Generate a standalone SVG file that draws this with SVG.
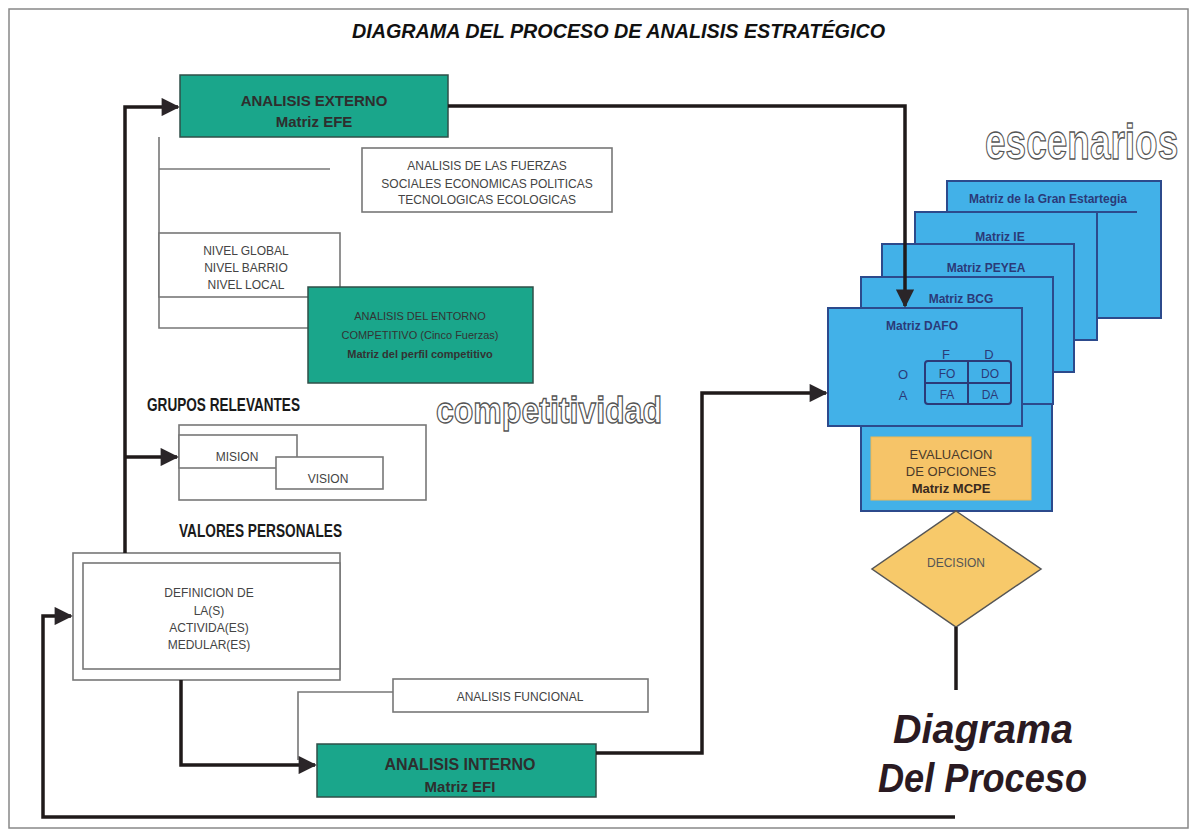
<svg xmlns="http://www.w3.org/2000/svg" width="1193" height="835" viewBox="0 0 1193 835">
<style>
.t{font-family:"Liberation Sans",Arial,sans-serif;}
.gray{fill:#444;font-size:12px;text-anchor:middle;}
.teal{fill:#1aa68b;stroke:#2f4f48;stroke-width:1.5;}
.tb{fill:#2e2e2e;font-weight:bold;text-anchor:middle;}
.blue{fill:#42b1e8;stroke:#2c4a8c;stroke-width:2;}
.nv{fill:#2b3a78;font-weight:bold;font-size:12px;text-anchor:middle;}
.thin{fill:none;stroke:#777;stroke-width:1.6;}
.box{fill:#fff;stroke:#777;stroke-width:1.6;}
.con{fill:none;stroke:#1f1a1a;stroke-width:3.5;}
.hd{fill:#1a1a1a;font-weight:bold;font-size:19px;}
.out{fill:#fff;stroke:#555;stroke-width:1.3;font-weight:bold;}
</style>
<defs>
<marker id="ar" viewBox="0 0 10 10" refX="9" refY="5" markerWidth="5.8" markerHeight="5.2" orient="auto" markerUnits="strokeWidth">
<path d="M0,0 L10,5 L0,10 z" fill="#2a2528"/>
</marker>
</defs>
<rect x="0" y="0" width="1193" height="835" fill="#fff"/>
<rect x="9" y="9" width="1179" height="819" fill="none" stroke="#888" stroke-width="1.5"/>
<text class="t" x="352" y="38" font-size="20" font-weight="bold" font-style="italic" fill="#111" textLength="533" lengthAdjust="spacingAndGlyphs">DIAGRAMA DEL PROCESO DE ANALISIS ESTRATÉGICO</text>

<g id="guides">
<path class="thin" d="M159,137 V328 H308"/>
<path class="thin" d="M159,169 H330"/>
<path class="thin" d="M393,692 H298 V760"/>
</g>

<g id="externo">
<rect class="teal" x="180" y="75" width="268" height="62"/>
<text class="t tb" x="314" y="106" font-size="15">ANALISIS EXTERNO</text>
<text class="t tb" x="314" y="127" font-size="15">Matriz EFE</text>
</g>

<g id="fuerzas">
<rect class="box" x="362" y="148" width="250" height="64"/>
<text class="t gray" x="487" y="170">ANALISIS DE LAS FUERZAS</text>
<text class="t gray" x="487" y="188">SOCIALES ECONOMICAS POLITICAS</text>
<text class="t gray" x="487" y="204">TECNOLOGICAS ECOLOGICAS</text>
</g>

<g id="niveles">
<rect class="box" x="159" y="233" width="181" height="64"/>
<text class="t gray" x="246" y="255">NIVEL GLOBAL</text>
<text class="t gray" x="246" y="272">NIVEL BARRIO</text>
<text class="t gray" x="246" y="289">NIVEL LOCAL</text>
</g>

<g id="entorno">
<rect class="teal" x="308" y="287" width="225" height="96"/>
<text class="t" x="420" y="320" font-size="11" fill="#333" text-anchor="middle">ANALISIS DEL ENTORNO</text>
<text class="t" x="420" y="339" font-size="11" fill="#333" text-anchor="middle">COMPETITIVO (Cinco Fuerzas)</text>
<text class="t" x="420" y="358" font-size="11" fill="#333" font-weight="bold" text-anchor="middle">Matriz del perfil competitivo</text>
</g>

<text class="t hd" x="147" y="411" textLength="153" lengthAdjust="spacingAndGlyphs">GRUPOS RELEVANTES</text>
<text class="t out" x="436" y="423" font-size="36" textLength="226" lengthAdjust="spacingAndGlyphs">competitividad</text>

<g id="grupos">
<rect class="box" x="179" y="425" width="247" height="75"/>
<rect class="box" x="179" y="435" width="118" height="33" fill="none"/>
<rect class="box" x="276" y="457" width="107" height="32" fill="none"/>
<text class="t gray" x="237" y="461">MISION</text>
<text class="t gray" x="328" y="483">VISION</text>
</g>

<text class="t hd" x="179" y="537" textLength="163" lengthAdjust="spacingAndGlyphs">VALORES PERSONALES</text>

<g id="definicion">
<rect class="box" x="73" y="553" width="267" height="127"/>
<rect class="box" x="83" y="563" width="257" height="106"/>
<text class="t gray" x="209" y="597">DEFINICION DE</text>
<text class="t gray" x="209" y="615">LA(S)</text>
<text class="t gray" x="209" y="632">ACTIVIDA(ES)</text>
<text class="t gray" x="209" y="649">MEDULAR(ES)</text>
</g>

<g id="funcional">
<rect class="box" x="393" y="679" width="255" height="33"/>
<text class="t gray" x="520" y="701" font-size="11">ANALISIS FUNCIONAL</text>
</g>

<g id="interno">
<rect class="teal" x="317" y="744" width="279" height="53"/>
<text class="t tb" x="460" y="770" font-size="16">ANALISIS INTERNO</text>
<text class="t tb" x="460" y="792" font-size="15">Matriz EFI</text>
</g>

<text class="t out" transform="translate(985,159) scale(0.74,1)" x="0" y="0" font-size="50">escenarios</text>

<g id="gran">
<rect class="blue" x="947" y="181" width="214" height="137"/>
<text class="t nv" x="1048" y="203">Matriz de la Gran Estartegia</text>
<line x1="915" y1="212" x2="1137" y2="212" stroke="#2c4a8c" stroke-width="2"/>
</g>
<g id="ie">
<rect class="blue" x="915" y="212" width="182" height="128"/>
<text class="t nv" x="1000" y="241">Matriz IE</text>
</g>
<g id="peyea">
<rect class="blue" x="882" y="244" width="192" height="128"/>
<text class="t nv" x="986" y="272">Matriz PEYEA</text>
</g>
<g id="bcg">
<rect class="blue" x="861" y="277" width="192" height="127"/>
<text class="t nv" x="961" y="303">Matriz BCG</text>
</g>
<g id="evaluacion">
<rect class="blue" x="861" y="404" width="191" height="107"/>
<rect x="871" y="437" width="160" height="63" fill="#f6c468" stroke="#f0b850" stroke-width="1"/>
<text class="t" x="951" y="459" font-size="13" fill="#4a3a2a" text-anchor="middle">EVALUACION</text>
<text class="t" x="951" y="476" font-size="13" fill="#4a3a2a" text-anchor="middle">DE OPCIONES</text>
<text class="t" x="951" y="493" font-size="13" fill="#3a2a20" font-weight="bold" text-anchor="middle">Matriz MCPE</text>
</g>
<g id="dafo">
<rect class="blue" x="828" y="308" width="194" height="118"/>
<text class="t nv" x="922" y="330">Matriz DAFO</text>
<rect x="925" y="361" width="86" height="43" rx="3" fill="none" stroke="#2b3a78" stroke-width="2"/>
<line x1="968" y1="361" x2="968" y2="404" stroke="#2b3a78" stroke-width="2"/>
<line x1="925" y1="383" x2="1011" y2="383" stroke="#2b3a78" stroke-width="2"/>
<text class="t" x="946" y="359" font-size="13" fill="#2b3a78" text-anchor="middle">F</text>
<text class="t" x="989" y="359" font-size="13" fill="#2b3a78" text-anchor="middle">D</text>
<text class="t" x="903" y="379" font-size="13" fill="#2b3a78" text-anchor="middle">O</text>
<text class="t" x="903" y="400" font-size="13" fill="#2b3a78" text-anchor="middle">A</text>
<text class="t" x="947" y="378" font-size="12" fill="#2b3a78" text-anchor="middle">FO</text>
<text class="t" x="990" y="378" font-size="12" fill="#2b3a78" text-anchor="middle">DO</text>
<text class="t" x="947" y="399" font-size="12" fill="#2b3a78" text-anchor="middle">FA</text>
<text class="t" x="990" y="399" font-size="12" fill="#2b3a78" text-anchor="middle">DA</text>
</g>

<g id="decision">
<polygon points="956,511 1041,569 956,627 872,569" fill="#f7c96a" stroke="#555" stroke-width="1.5"/>
<text class="t" x="956" y="567" font-size="12" fill="#555" text-anchor="middle">DECISION</text>
</g>

<g id="connectors">
<path class="con" d="M125,553 V107 H178" marker-end="url(#ar)"/>
<path class="con" d="M125,457 H177" marker-end="url(#ar)"/>
<path class="con" d="M448,106 H905 V306" marker-end="url(#ar)"/>
<path class="con" d="M181,680 V765 H315" marker-end="url(#ar)"/>
<path class="con" d="M596,753 H702 V393 H826" marker-end="url(#ar)"/>
<path class="con" d="M955,817 H43 V616 H71" marker-end="url(#ar)"/>
<path class="con" d="M956,627 V690"/>
</g>

<text class="t" x="893" y="743" font-size="40" font-weight="bold" font-style="italic" fill="#2a1a22" textLength="180" lengthAdjust="spacingAndGlyphs">Diagrama</text>
<text class="t" x="878" y="792" font-size="40" font-weight="bold" font-style="italic" fill="#2a1a22" textLength="209" lengthAdjust="spacingAndGlyphs">Del Proceso</text>
</svg>
